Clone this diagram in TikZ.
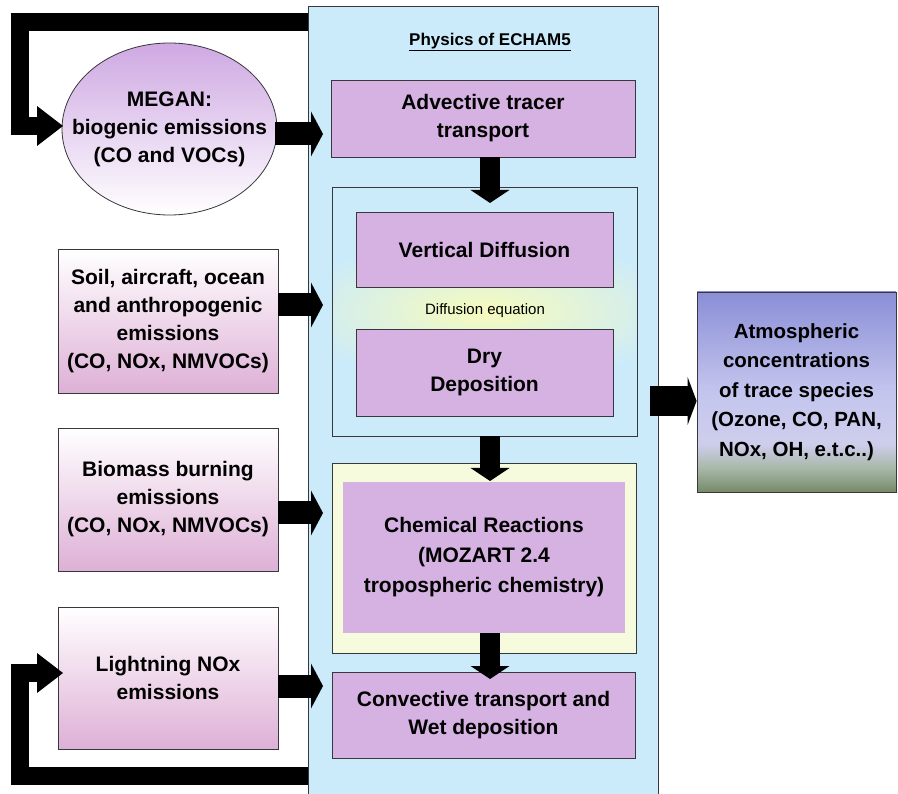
\documentclass[tikz,border=0pt]{standalone}
\usepackage{fontspec}
\setmainfont{Liberation Sans}
\usetikzlibrary{arrows.meta,shapes.geometric}
\definecolor{panelc}{RGB}{204,235,250}
\definecolor{purp}{RGB}{213,178,226}
\definecolor{bordc}{RGB}{55,55,60}
\definecolor{chemc}{RGB}{247,251,222}
\definecolor{pinkc}{RGB}{222,176,214}
\definecolor{megc}{RGB}{206,168,226}
\definecolor{glowc}{RGB}{246,251,188}
\definecolor{atT}{RGB}{138,142,214}
\definecolor{atM}{RGB}{196,197,238}
\definecolor{atL}{RGB}{206,206,236}
\definecolor{atG}{RGB}{168,184,168}
\definecolor{atB}{RGB}{118,138,104}
\pgfdeclareverticalshading{atmosshade}{100bp}{color(0bp)=(atB); color(25bp)=(atB); color(31bp)=(atG); color(37bp)=(atL); color(50bp)=(atM); color(75bp)=(atT); color(100bp)=(atT)}
\tikzset{
  txt/.style={font=\fontsize{21}{28}\selectfont\bfseries, align=center, text=black},
  pbox/.style={txt, draw=bordc, line width=0.8pt, fill=purp, inner sep=0pt},
  ebox/.style={txt, draw=bordc, line width=0.8pt, top color=white, bottom color=pinkc, inner sep=0pt},
  grp/.style={draw=bordc, line width=0.8pt, inner sep=0pt},
  side arrow/.style={draw=black, line width=23pt, -{Triangle[length=12pt,width=45pt,line width=0pt]}},
  down arrow/.style={draw=black, line width=20pt, -{Triangle[length=13pt,width=39pt,line width=0pt]}},
  loop arrow/.style={draw=black, line width=18pt, -{Triangle[length=26pt,width=40pt,line width=0pt]}},
  out arrow/.style={draw=black, line width=30pt, -{Triangle[length=9pt,width=48pt,line width=0pt]}},
}
\begin{document}
\begin{tikzpicture}[x=1pt,y=-1pt]
\useasboundingbox (0,0) rectangle (898,794);
\fill[white] (0,0) rectangle (898,794);
% main panel
\node[grp, fill=panelc, minimum width=350pt, minimum height=800pt] (panel) at (483,406) {};
\node[font=\fontsize{17}{20}\selectfont\bfseries] (title) at (490,42) {\underline{Physics of ECHAM5}};
% boxes inside the panel
\node[pbox, minimum width=304pt, minimum height=77pt] (adv) at (483,118.5) {Advective tracer\\transport};
\begin{scope}
  \clip (333,188) rectangle (636,435);
  \shade[inner color=glowc, outer color=panelc] (285,240) rectangle (685,382);
\end{scope}
\node[grp, minimum width=305pt, minimum height=249pt] (diffgrp) at (484.5,311.5) {};
\node[pbox, minimum width=257pt, minimum height=75pt] (vd) at (484.5,249.5) {Vertical Diffusion};
\node[font=\fontsize{15}{18}\selectfont, text=black] (diffeq) at (485,311) {Diffusion equation};
\node[pbox, minimum width=257pt, minimum height=87pt] (dd) at (484.5,372.5) {Dry\\Deposition};
\node[grp, fill=chemc, minimum width=304pt, minimum height=190pt] (chemgrp) at (484,558) {};
\node[txt, fill=purp, inner sep=0pt, minimum width=282pt, minimum height=151pt, font=\fontsize{21}{30}\selectfont\bfseries] (chem) at (484,557.5) {Chemical Reactions\\(MOZART 2.4\\tropospheric chemistry)};
\node[pbox, minimum width=303pt, minimum height=86pt] (conv) at (483.5,715.5) {Convective transport and\\Wet deposition};
% emission sources
\node[ellipse, draw=bordc, line width=0.8pt, top color=megc, bottom color=white, inner sep=0pt, minimum width=215pt, minimum height=172pt] (megan) at (169.5,129) {};
\node[txt] (megantxt) at (megan.center) {MEGAN:\\biogenic emissions\\(CO and VOCs)};
\node[ebox, minimum width=220pt, minimum height=144pt] (soil) at (168,321) {Soil, aircraft, ocean\\and anthropogenic\\emissions\\(CO, NOx, NMVOCs)};
\node[ebox, minimum width=220pt, minimum height=143pt] (bio) at (168,499.5) {Biomass burning\\emissions\\(CO, NOx, NMVOCs)};
\node[ebox, minimum width=220pt, minimum height=142pt] (light) at (168,678) {Lightning NOx\\emissions};
% output
\node[txt, draw=bordc, line width=0.8pt, shading=atmosshade, inner sep=0pt, minimum width=199pt, minimum height=200pt, font=\fontsize{20.5}{29.5}\selectfont\bfseries] (atmos) at (796.5,392) {Atmospheric\\concentrations\\of trace species\\(Ozone, CO, PAN,\\NOx, OH, e.t.c..)};
% arrow end points
\coordinate (megTip) at (323,134);
\coordinate (soilTip) at (323,305);
\coordinate (bioTip) at (323,513);
\coordinate (lightTip) at (323,686);
\coordinate (d1s) at (490,157);
\coordinate (d1e) at (490,203);
\coordinate (d2s) at (490,436);
\coordinate (d2e) at (490,481);
\coordinate (d3s) at (490,633);
\coordinate (d3e) at (490,679);
\coordinate (outS) at (650,401);
\coordinate (topLoopS) at (308,22);
\coordinate (topLoopC) at (20,22);
\coordinate (megIn) at (63,126);
\coordinate (botLoopS) at (308,776);
\coordinate (botLoopC) at (20,776);
\coordinate (lightIn) at (63,673);
% arrows
\draw[side arrow] ([xshift=-2pt]megan.east |- megTip) -- (megTip);
\draw[side arrow] (soil.east |- soilTip) -- (soilTip);
\draw[side arrow] (bio.east |- bioTip) -- (bioTip);
\draw[side arrow] (light.east |- lightTip) -- (lightTip);
\draw[down arrow] (d1s) -- (d1e);
\draw[down arrow] (d2s) -- (d2e);
\draw[down arrow] (d3s) -- (d3e);
\draw[out arrow] (outS) -- (atmos.west |- outS);
\draw[loop arrow] (topLoopS) -- (topLoopC) |- (megIn);
\draw[loop arrow] (botLoopS) -- (botLoopC) |- (lightIn);
\end{tikzpicture}
\end{document}
